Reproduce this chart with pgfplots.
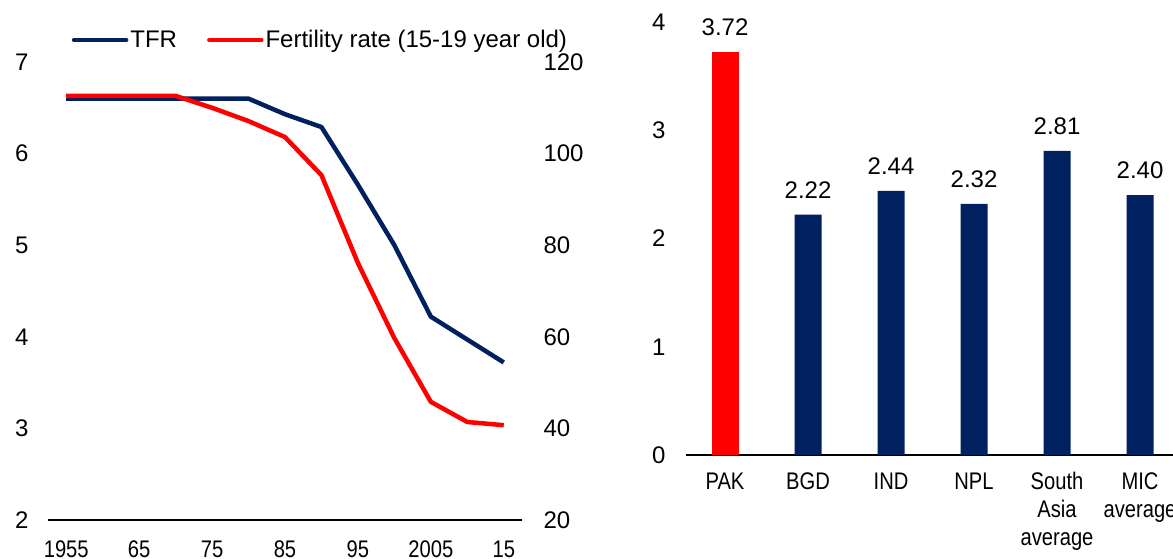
\documentclass[border=0pt]{standalone}
\usepackage{fontspec}
\setmainfont{Liberation Sans}
\newfontfamily\narrowfont[FakeStretch=0.84]{Liberation Sans}
\usepackage{pgfplots}
\pgfplotsset{compat=1.18}
\definecolor{navy}{RGB}{0,32,96}
\definecolor{myred}{RGB}{255,0,0}
\begin{document}
\begin{tikzpicture}
\pgfplotsset{
  every axis/.append style={
    scale only axis,
    /pgf/number format/assume math mode=true,
    tick label style={font=\fontsize{24}{28}\selectfont},
    major tick length=0pt,
    minor tick length=0pt,
  }
}
% ---------- left panel: TFR (left axis) ----------
\begin{axis}[
  at={(48pt,38pt)}, anchor=south west,
  width=474pt, height=458pt,
  xmin=1952.5, xmax=2017.5, ymin=2, ymax=7,
  axis x line*=bottom, axis y line*=left,
  y axis line style={draw=none},
  x axis line style={line width=2pt,-},
  ytick={2,3,4,5,6,7},
  xtick={1955,1965,1975,1985,1995,2005,2015},
  xticklabels={1955,65,75,85,95,2005,15},
  xticklabel style={font=\narrowfont\fontsize{24}{28}\selectfont, yshift=-17pt},
  yticklabel style={xshift=-16pt},
  legend columns=2,
  legend style={draw=none, fill=none, at={(0.05,1.048)}, anchor=west,
    font=\fontsize{24}{28}\selectfont, inner xsep=0pt,
    nodes={inner xsep=2pt},
    /tikz/every even column/.append style={column sep=28pt}},
  legend image code/.code={\draw[#1, line cap=round] (0pt,0pt) -- (52pt,0pt);},
]
\addplot[navy, line width=4.5pt, line join=round] coordinates {
(1955,6.60) (1960,6.60) (1965,6.60) (1970,6.60) (1975,6.60) (1980,6.60)
(1985,6.43) (1990,6.29) (1995,5.66) (2000,5.00) (2005,4.22) (2010,3.97) (2015,3.72)};
\addlegendentry{TFR}
\addlegendimage{myred, line width=4.5pt}
\addlegendentry{Fertility rate (15-19 year old)}
\end{axis}
% ---------- left panel: fertility rate 15-19 (right axis) ----------
\begin{axis}[
  at={(48pt,38pt)}, anchor=south west,
  width=474pt, height=458pt,
  xmin=1952.5, xmax=2017.5, ymin=20, ymax=120,
  axis x line=none, axis y line*=right,
  y axis line style={draw=none},
  ytick={20,40,60,80,100,120},
  yticklabel style={xshift=18pt},
]
\addplot[myred, line width=4.5pt, line join=round] coordinates {
(1955,112.6) (1960,112.6) (1965,112.6) (1970,112.6) (1975,110.0) (1980,107.1)
(1985,103.6) (1990,95.3) (1995,76.1) (2000,59.7) (2005,45.8) (2010,41.4) (2015,40.7)};
\end{axis}
% ---------- right panel: bars ----------
\begin{axis}[
  at={(686pt,103pt)}, anchor=south west,
  width=498pt, height=433pt,
  xmin=-0.47, xmax=5.53, ymin=0, ymax=4,
  axis x line*=bottom, axis y line*=left,
  y axis line style={draw=none},
  x axis line style={line width=2pt,-},
  ytick={0,1,2,3,4},
  yticklabel style={xshift=-17pt},
  xtick={0,1,2,3,4,5},
  xticklabels={PAK,BGD,IND,NPL,{South\\Asia\\average},{MIC\\average}},
  xticklabel style={font=\narrowfont\fontsize{24}{28}\selectfont, align=center, yshift=-14pt},
  ybar, bar width=27pt, bar shift=0pt,
  nodes near coords,
  nodes near coords style={font=\fontsize{24}{28}\selectfont, yshift=13pt,
    /pgf/number format/.cd, fixed, fixed zerofill, precision=2},
]
\addplot[draw=none, fill=myred] coordinates {(0,3.72)};
\addplot[draw=none, fill=navy] coordinates {(1,2.22) (2,2.44) (3,2.32) (4,2.81) (5,2.40)};
\end{axis}
\pgfresetboundingbox
\useasboundingbox (0pt,0pt) rectangle (1173pt,558pt);
\end{tikzpicture}
\end{document}
